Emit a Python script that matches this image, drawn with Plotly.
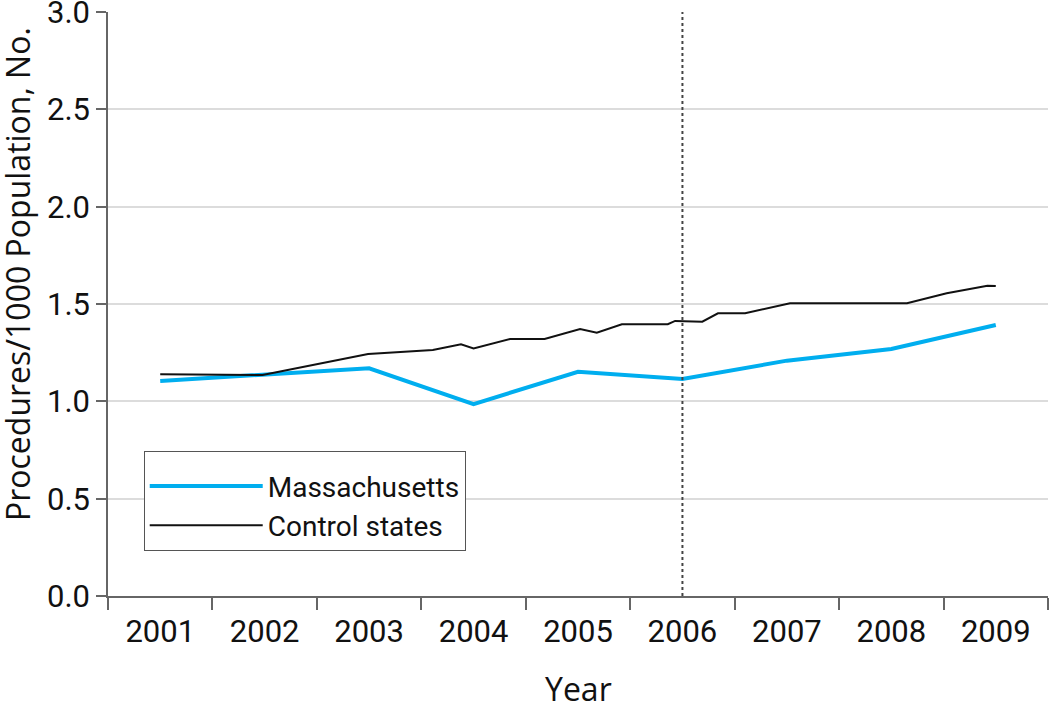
import plotly.graph_objects as go

years = [2001, 2002, 2003, 2004, 2005, 2006, 2007, 2008, 2009]
year_labels = [str(y) for y in years]
ma_values = [1.105, 1.135, 1.17, 0.986, 1.152, 1.115, 1.209, 1.269, 1.392]

ctrl_x = [2001.0, 2001.98, 2002.99, 2003.61, 2003.88, 2004.0, 2004.35, 2004.68,
          2005.02, 2005.18, 2005.42, 2005.86, 2005.93, 2006.19, 2006.34, 2006.60,
          2007.03, 2008.15, 2008.53, 2008.92, 2009.0]
ctrl_values = [1.139, 1.135, 1.243, 1.264, 1.293, 1.272, 1.320, 1.320,
               1.372, 1.353, 1.396, 1.396, 1.413, 1.409, 1.452, 1.452,
               1.504, 1.504, 1.555, 1.594, 1.592]

boundaries = [y - 0.5 for y in years] + [years[-1] + 0.5]
policy_year = 2006
y_ticks = [0.0, 0.5, 1.0, 1.5, 2.0, 2.5, 3.0]

FONT = "Roboto, Open Sans, sans-serif"
TITLE_FONT = "Open Sans, Roboto, sans-serif"
TICK_SIZE = 31
fig = go.Figure()

fig.add_trace(go.Scatter(x=years, y=ma_values, mode="lines", name="Massachusetts",
                         line=dict(color="#00AEEF", width=4)))
fig.add_trace(go.Scatter(x=ctrl_x, y=ctrl_values, mode="lines", name="Control states",
                         line=dict(color="#111111", width=2)))
# invisible trace to activate label axis
fig.add_trace(go.Scatter(x=years, y=ma_values, xaxis="x2", mode="lines",
                         line=dict(width=0), showlegend=False, hoverinfo="skip", opacity=0))

fig.add_shape(type="line", xref="x", yref="y", x0=policy_year, x1=policy_year, y0=0, y1=3,
              line=dict(color="#444444", width=2, dash="dot"))

fig.update_layout(
    width=1050, height=704,
    margin=dict(l=108, r=2, t=12, b=108, autoexpand=False),
    paper_bgcolor="white", plot_bgcolor="white",
    font=dict(family=FONT, size=28, color="#111111"),
    showlegend=True,
    legend=dict(x=0.038, y=0.248, xanchor="left", yanchor="top",
                bordercolor="#555555", borderwidth=1, bgcolor="white",
                font=dict(size=28, family=FONT, color="#111111"),
                title=dict(text=" ", font=dict(size=7)),
                tracegroupgap=0, itemwidth=113),
    xaxis=dict(range=[boundaries[0], boundaries[-1]], tickvals=boundaries,
               showticklabels=False, ticks="outside", ticklen=12, tickwidth=1.5,
               tickcolor="#666666", showline=True, linecolor="#666666", linewidth=1.5,
               showgrid=False, zeroline=False, automargin=False),
    xaxis2=dict(range=[boundaries[0], boundaries[-1]], overlaying="x", side="bottom",
                tickvals=years, ticktext=year_labels, ticks="", showline=False,
                showgrid=False, zeroline=False, ticklabelstandoff=14, automargin=False,
                ticklabeloverflow="allow",
                tickfont=dict(size=TICK_SIZE, family=FONT, color="#111111")),
    yaxis=dict(range=[0, 3], tickvals=y_ticks, tickformat=".1f", ticks="outside",
               ticklen=10, tickwidth=1.5, tickcolor="#666666", showline=True,
               linecolor="#666666", linewidth=1.5, showgrid=True, gridcolor="#dcdcdc",
               gridwidth=2, zeroline=False, automargin=False, ticklabeloverflow="allow",
               tickfont=dict(size=TICK_SIZE, family=FONT, color="#111111")),
)

fig.add_annotation(text="Procedures/1000 Population, No.", xref="paper", yref="paper",
                   x=-0.097, y=0.551, xanchor="center", yanchor="middle",
                   textangle=-90, showarrow=False, font=dict(size=32, family=TITLE_FONT))
fig.add_annotation(text="Year", xref="paper", yref="paper", x=0.5, y=-0.158,
                   xanchor="center", yanchor="middle", showarrow=False,
                   font=dict(size=32, family=TITLE_FONT))

fig.write_html("out.html", config={"displayModeBar": False},
               post_script="document.body.style.margin='0';document.body.style.overflow='hidden';")
